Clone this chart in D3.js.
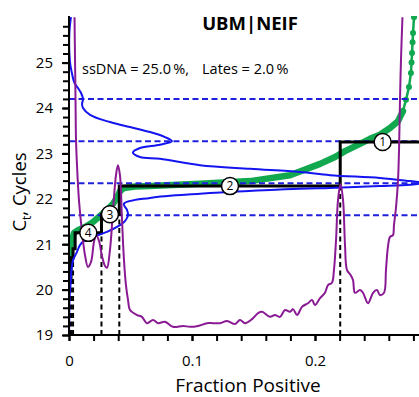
<!DOCTYPE html>
<html>
<head>
<meta charset="utf-8">
<script src="https://d3js.org/d3.v7.min.js"></script>
<style>
    body { margin: 0; background: #fff; }
    svg { display: block; font-family: "Open Sans", sans-serif; }
</style>
</head>
<body>
<div id="chart"></div>
<script>
    // sorted Ct curve (fraction positive, Ct)
    const greenCurve = [[0,20.2],[0,20.54],[0.0008,20.76],[0.0024,21.09],[0.0041,21.25],[0.0073,21.31],[0.0130,21.38],
        [0.0187,21.47],[0.0252,21.62],[0.0309,21.75],[0.0358,21.89],[0.0390,22.02],[0.0415,22.17],[0.0447,22.24],
        [0.0537,22.27],[0.0659,22.28],[0.1065,22.33],[0.1472,22.39],[0.1797,22.52],[0.2041,22.77],[0.2163,22.92],
        [0.2244,23.05],[0.2366,23.21],[0.2447,23.32],[0.2528,23.41],[0.2610,23.56],[0.2675,23.71],[0.2715,23.93],
        [0.2740,24.18],[0.2764,24.46],[0.2780,24.77],[0.2785,25.0],[0.2789,25.21],[0.2793,25.45],[0.2797,25.65],[0.2805,26.0]];

    // Ct density, drawn sideways
    const blueDensity = [[0.0016,26.0],[0.0003,25.65],[0.0008,25.01],[0.0022,24.79],[0.0045,24.55],[0.0073,24.44],
        [0.0098,24.33],[0.0114,24.20],[0.0106,24.09],[0.0114,24.0],[0.0171,23.85],[0.0333,23.69],[0.0496,23.58],
        [0.0659,23.47],[0.0780,23.36],[0.0837,23.27],[0.0740,23.19],[0.0577,23.12],[0.0520,23.02],[0.0577,22.92],
        [0.0740,22.88],[0.1065,22.74],[0.1472,22.66],[0.1878,22.59],[0.2122,22.52],[0.2528,22.46],[0.2772,22.39],
        [0.2894,22.35],[0.2772,22.31],[0.2528,22.28],[0.2122,22.24],[0.1878,22.22],[0.1065,22.11],[0.0659,22.02],
        [0.0447,21.89],[0.0472,21.75],[0.0480,21.64],[0.0455,21.51],[0.0390,21.38],[0.0309,21.27],[0.0195,21.16],
        [0.0130,21.09],[0.0089,20.98],[0.0065,20.83],[0.0033,20.65],[0.0020,20.43],[0.0012,20.10],[0.0004,19.77],
        [0.0002,19.33],[0,19]];

    // derivative-like curve
    const purpleCurve = [[0.0045,26.0],[0.0049,25.06],[0.0053,24.18],[0.0057,23.30],[0.0065,22.74],[0.0081,21.97],
        [0.0106,21.27],[0.0130,20.76],[0.0154,20.50],[0.0179,20.61],[0.0203,21.05],[0.0220,21.20],[0.0244,21.07],
        [0.0268,20.74],[0.0293,20.52],[0.0309,20.48],[0.0333,20.87],[0.0358,21.75],[0.0382,22.52],[0.0398,22.74],
        [0.0415,22.50],[0.0431,21.53],[0.0447,20.65],[0.0463,20.10],[0.0480,19.77],[0.0496,19.55],[0.0553,19.44],
        [0.0593,19.40],[0.0634,19.26],[0.0683,19.33],[0.0724,19.26],[0.0780,19.29],[0.0846,19.18],[0.0927,19.20],
        [0.0984,19.18],[0.1049,19.20],[0.1122,19.26],[0.1171,19.26],[0.1228,19.26],[0.1285,19.31],[0.1350,19.24],
        [0.1390,19.33],[0.1431,19.26],[0.1488,19.35],[0.1537,19.48],[0.1569,19.51],[0.1634,19.40],[0.1675,19.44],
        [0.1715,19.40],[0.1756,19.55],[0.1797,19.51],[0.1821,19.57],[0.1854,19.44],[0.1894,19.62],[0.1943,19.70],
        [0.1976,19.77],[0.2000,19.66],[0.2041,19.81],[0.2081,19.93],[0.2106,20.10],[0.2138,20.15],[0.2154,20.43],
        [0.2171,21.09],[0.2187,21.97],[0.2207,22.32],[0.2228,21.97],[0.2244,20.98],[0.2260,20.43],[0.2285,20.34],
        [0.2309,20.21],[0.2325,19.93],[0.2366,19.99],[0.2390,19.93],[0.2431,19.70],[0.2472,19.93],[0.2504,19.99],
        [0.2528,19.88],[0.2561,19.93],[0.2577,20.43],[0.2593,20.94],[0.2610,21.16],[0.2634,21.20],[0.2642,21.42],
        [0.2659,21.82],[0.2675,22.41],[0.2683,23.07],[0.2691,24.18],[0.2699,25.06],[0.2711,26.0]];

    // step fit
    const stepX = [0, 0.0016, 0.0033, 0.0050, 0.0264, 0.0409, 0.2205, 0.30];
    const stepY = [20.2, 20.7, 20.9, 21.25, 21.66, 22.28, 23.25, 23.25];
    const cutX = [0.0016, 0.0033, 0.0264, 0.0409, 0.2205];
    const cutY = [20.2, 20.7, 21.25, 21.66, 22.28];

    const peakCt = [24.2, 23.27, 22.34, 21.64];

    const markerX = [0.255, 0.1309, 0.0333, 0.0157];
    const markerY = [23.25, 22.28, 21.66, 21.25];
    const markerLabel = ["1", "2", "3", "4"];

    const yTicks = [19, 20, 21, 22, 23, 24, 25];
    const xTicks = [0, 0.1, 0.2];

    const W = 419, H = 397;
    const svg = d3.select("#chart").append("svg").attr("width", W).attr("height", H);

    const x = d3.scaleLinear().domain([0, 0.3]).range([69, 438]);
    const y = d3.scaleLinear().domain([19, 26]).range([335, 17.2]);

    svg.append("clipPath").attr("id", "clip")
        .append("rect").attr("x", 68).attr("y", 16).attr("width", W - 68).attr("height", 319);

    const plot = svg.append("g").attr("clip-path", "url(#clip)");
    const line = d3.line().x(d => x(d[0])).y(d => y(d[1]));

    // green sorted curve
    plot.append("path")
        .attr("d", line(greenCurve.filter(d => d[1] < 24)))
        .attr("fill", "none").attr("stroke", "#12a84f").attr("stroke-width", 6.5)
        .attr("stroke-linejoin", "round").attr("stroke-linecap", "round");
    plot.append("path")
        .attr("d", line(greenCurve))
        .attr("fill", "none").attr("stroke", "#12a84f").attr("stroke-width", 2.5);
    plot.selectAll(".gdot").data(greenCurve.filter(d => d[1] > 23.8)).join("circle")
        .attr("cx", d => x(d[0])).attr("cy", d => y(d[1])).attr("r", 3).attr("fill", "#12a84f");

    // blue dashed peak lines
    plot.selectAll(".peak").data(peakCt).join("line")
        .attr("x1", x(0)).attr("x2", W).attr("y1", d => y(d)).attr("y2", d => y(d))
        .attr("stroke", "#1f1fe0").attr("stroke-width", 2).attr("stroke-dasharray", "6,3.5");

    // black dashed cut lines
    plot.selectAll(".cut").data(cutX).join("line")
        .attr("x1", d => x(d)).attr("x2", d => x(d))
        .attr("y1", y(19)).attr("y2", (d, i) => y(cutY[i]))
        .attr("stroke", "#000").attr("stroke-width", 2).attr("stroke-dasharray", "5,3.5");

    // step line
    const steps = stepX.map((d, i) => [d, stepY[i]]);
    plot.append("path")
        .attr("d", d3.line().x(d => x(d[0])).y(d => y(d[1])).curve(d3.curveStepAfter)(steps))
        .attr("fill", "none").attr("stroke", "#000").attr("stroke-width", 3);

    // blue density
    plot.append("path")
        .attr("d", line.curve(d3.curveCatmullRom.alpha(0.5))(blueDensity))
        .attr("fill", "none").attr("stroke", "#1414f0").attr("stroke-width", 2);

    // purple
    plot.append("path")
        .attr("d", d3.line().x(d => x(d[0])).y(d => y(d[1])).curve(d3.curveCatmullRom.alpha(0.5))(purpleCurve))
        .attr("fill", "none").attr("stroke", "#8a1a94").attr("stroke-width", 2);

    // numbered markers
    const mk = svg.selectAll(".mk").data(markerLabel).join("g")
        .attr("transform", (d, i) => `translate(${x(markerX[i])},${y(markerY[i])})`);
    mk.append("circle").attr("r", 8.5).attr("fill", "#fff").attr("stroke", "#000").attr("stroke-width", 1.5);
    mk.append("text").attr("text-anchor", "middle").attr("dy", "0.36em")
        .attr("font-size", 12).text(d => d);

    // axes
    const yAxis = svg.append("g").attr("transform", `translate(${x(0)},0)`)
        .call(d3.axisLeft(y).tickValues(d3.range(19, 25.81, 0.2)).tickSize(6).tickFormat(""));
    svg.append("g").attr("transform", `translate(${x(0)},0)`)
        .call(d3.axisLeft(y).tickValues(yTicks).tickSize(7).tickPadding(9).tickFormat(d3.format("d")))
        .call(g => g.select(".domain").remove())
        .selectAll("text").attr("font-size", 15).attr("font-family", "Open Sans");
    yAxis.select(".domain").attr("d", `M0,16V${y(19)}`);

    const xAxis = svg.append("g").attr("transform", `translate(0,${y(19)})`)
        .call(d3.axisBottom(x).tickValues(d3.range(0, 0.2801, 0.02)).tickSize(6).tickFormat(""));
    xAxis.select(".domain").attr("d", `M${x(0)},0H${W}`);
    svg.append("g").attr("transform", `translate(0,${y(19)})`)
        .call(d3.axisBottom(x).tickValues(xTicks).tickSize(6).tickPadding(14).tickFormat(d => d === 0 ? "0" : d3.format(".1f")(d)))
        .call(g => g.select(".domain").remove())
        .selectAll("text").attr("font-size", 15).attr("font-family", "Open Sans");
    svg.selectAll(".domain, .tick line").attr("stroke", "#000").attr("stroke-width", 2);

    // titles
    svg.append("text").attr("x", 250).attr("y", 30).attr("text-anchor", "middle")
        .attr("font-size", 18.5).attr("font-weight", "bold").text("UBM|NEIF");
    svg.append("text").attr("x", 82).attr("y", 74).attr("font-size", 14.5).text("ssDNA = 25.0\u2009%,");
    svg.append("text").attr("x", 202).attr("y", 74).attr("font-size", 14.5).text("Lates = 2.0\u2009%");

    svg.append("text").attr("x", 248).attr("y", 392).attr("text-anchor", "middle")
        .attr("font-size", 19).text("Fraction Positive");
    const yl = svg.append("text").attr("transform", "translate(26,192) rotate(-90)")
        .attr("text-anchor", "middle").attr("font-size", 18.5);
    yl.append("tspan").text("C");
    yl.append("tspan").attr("font-size", 12).attr("dy", 5).text("t");
    yl.append("tspan").attr("dy", -5).text(", Cycles");
</script>
</body>
</html>
